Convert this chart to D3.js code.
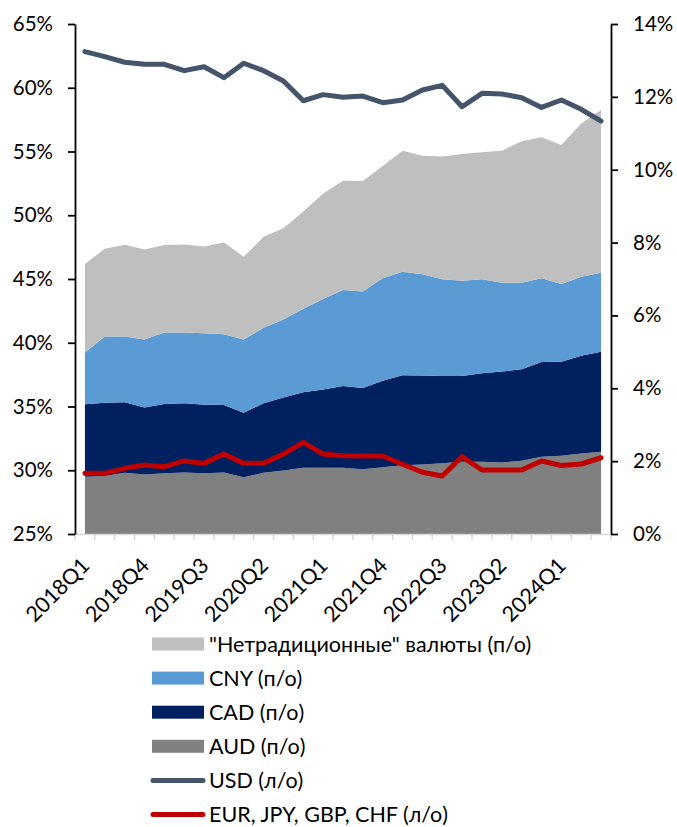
<!DOCTYPE html>
<html>
<head>
<meta charset="utf-8">
<script src="https://cdn.jsdelivr.net/npm/d3@7"></script>
<style>
  html, body { margin: 0; padding: 0; background: #fff; }
  svg { display: block; }
  text { font-family: Lato, "Open Sans", sans-serif; fill: #000; }
</style>
</head>
<body>
<svg id="chart" width="677" height="827"></svg>
<script>
// ---- DATA ----
const quarters = ["2018Q1","2018Q2","2018Q3","2018Q4","2019Q1","2019Q2","2019Q3","2019Q4",
  "2020Q1","2020Q2","2020Q3","2020Q4","2021Q1","2021Q2","2021Q3","2021Q4",
  "2022Q1","2022Q2","2022Q3","2022Q4","2023Q1","2023Q2","2023Q3","2023Q4",
  "2024Q1","2024Q2","2024Q3"];
const tickLabels = ["2018Q1","2018Q4","2019Q3","2020Q2","2021Q1","2021Q4","2022Q3","2023Q2","2024Q1"];

// right axis (п/о), % of reserves
const aud = [1.57,1.59,1.68,1.63,1.67,1.69,1.67,1.69,1.56,1.68,1.74,1.82,1.82,1.82,1.78,1.83,1.89,1.91,1.94,1.98,1.98,1.96,2.01,2.12,2.15,2.21,2.26];
const cad = [1.99,2.01,1.94,1.84,1.90,1.90,1.88,1.85,1.77,1.91,2.01,2.07,2.15,2.24,2.23,2.38,2.47,2.44,2.40,2.36,2.43,2.50,2.51,2.60,2.58,2.68,2.74];
const cny = [1.42,1.82,1.80,1.87,1.96,1.94,1.96,1.94,2.01,2.07,2.14,2.29,2.48,2.64,2.65,2.81,2.84,2.78,2.65,2.61,2.58,2.44,2.38,2.30,2.13,2.17,2.17];
const nontrad = [2.43,2.41,2.52,2.47,2.40,2.42,2.38,2.52,2.27,2.50,2.50,2.67,2.90,3.00,3.03,3.08,3.32,3.25,3.37,3.48,3.49,3.62,3.88,3.87,3.82,4.21,4.47];

// left axis (л/о)
const usd = [62.83,62.44,62.00,61.84,61.84,61.34,61.65,60.79,61.92,61.34,60.53,58.98,59.46,59.25,59.35,58.83,59.04,59.82,60.19,58.51,59.56,59.51,59.22,58.46,59.04,58.31,57.39];
const majors = [29.76,29.76,30.15,30.41,30.28,30.73,30.54,31.27,30.54,30.54,31.27,32.19,31.27,31.14,31.12,31.12,30.47,29.84,29.55,31.07,30.02,30.02,30.02,30.73,30.37,30.49,30.98];

const leftTicks = [25,30,35,40,45,50,55,60,65];
const rightTicks = [0,2,4,6,8,10,12,14];

const areaSeries = [
  {key: "aud", name: "AUD (п/о)", values: aud, color: "#808080"},
  {key: "cad", name: "CAD (п/о)", values: cad, color: "#002060"},
  {key: "cny", name: "CNY (п/о)", values: cny, color: "#5B9BD5"},
  {key: "nontrad", name: "\"Нетрадиционные\" валюты (п/о)", values: nontrad, color: "#BFBFBF"}
];
const lineSeries = [
  {key: "usd", name: "USD (л/о)", values: usd, color: "#44546A"},
  {key: "majors", name: "EUR, JPY, GBP, CHF (л/о)", values: majors, color: "#C00000"}
];

// ---- LAYOUT ----
const svg = d3.select("#chart");
const plot = {left: 75, right: 611, top: 24, bottom: 534};

const x = d3.scaleBand().domain(quarters).range([plot.left, plot.right]).paddingInner(0).paddingOuter(0);
const cx = q => x(q) + x.bandwidth() / 2;
const yL = d3.scaleLinear().domain([25, 65]).range([plot.bottom, plot.top]);
const yR = d3.scaleLinear().domain([0, 14]).range([plot.bottom, plot.top]);

// stacked areas
const table = quarters.map((q, i) => {
  const o = {q};
  areaSeries.forEach(s => o[s.key] = s.values[i]);
  return o;
});
const stack = d3.stack().keys(areaSeries.map(s => s.key));
const stacked = stack(table);
const area = d3.area()
  .x(d => cx(d.data.q))
  .y0(d => yR(d[0]))
  .y1(d => yR(d[1]));
svg.append("g").selectAll("path").data(stacked).join("path")
  .attr("d", area)
  .attr("fill", (d, i) => areaSeries[i].color);

// x axis (light gray) with ticks at category boundaries
const xAxisG = svg.append("g").attr("transform", `translate(0,${plot.bottom})`);
xAxisG.append("line").attr("x1", plot.left).attr("x2", plot.right)
  .attr("y1", 0.5).attr("y2", 0.5).attr("stroke", "#D9D9D9").attr("stroke-width", 1.5);
const boundaries = quarters.map(q => x(q)).concat([plot.right]);
xAxisG.selectAll("line.tk").data(boundaries).join("line").attr("class", "tk")
  .attr("x1", d => d).attr("x2", d => d).attr("y1", 0).attr("y2", 6)
  .attr("stroke", "#D9D9D9").attr("stroke-width", 1.5);
xAxisG.selectAll("text").data(tickLabels).join("text")
  .attr("transform", d => `translate(${cx(d) + 6},${33}) rotate(-45)`)
  .attr("text-anchor", "end")
  .style("font-size", "21.5px")
  .text(d => d);

// left axis
const leftAxis = d3.axisLeft(yL).tickValues(leftTicks).tickSize(7).tickSizeOuter(0)
  .tickFormat(d => d + "%");
const gl = svg.append("g").attr("transform", `translate(${plot.left},0)`).call(leftAxis);
gl.select(".domain").attr("stroke", "#000").attr("stroke-width", 1.8);
gl.selectAll(".tick line").attr("stroke", "#000").attr("stroke-width", 1.8);
gl.selectAll(".tick text").attr("x", -22).style("font-size", "20.5px").style("font-family", "Lato, sans-serif");

// right axis
const rightAxis = d3.axisRight(yR).tickValues(rightTicks).tickSize(7).tickSizeOuter(0)
  .tickFormat(d => d + "%");
const gr = svg.append("g").attr("transform", `translate(${plot.right},0)`).call(rightAxis);
gr.select(".domain").attr("stroke", "#000").attr("stroke-width", 1.8);
gr.selectAll(".tick line").attr("stroke", "#000").attr("stroke-width", 1.8);
gr.selectAll(".tick text").attr("x", 22).style("font-size", "20.5px").style("font-family", "Lato, sans-serif");
svg.selectAll(".tick text").attr("fill", "#000");

// lines
const line = d3.line().x((d, i) => cx(quarters[i])).y(d => yL(d));
svg.append("g").selectAll("path").data(lineSeries).join("path")
  .attr("d", d => line(d.values))
  .attr("fill", "none")
  .attr("stroke", d => d.color)
  .attr("stroke-width", 5)
  .attr("stroke-linejoin", "round")
  .attr("stroke-linecap", "round");

// legend
const legendItems = [
  {name: areaSeries[3].name, color: areaSeries[3].color, type: "rect"},
  {name: areaSeries[2].name, color: areaSeries[2].color, type: "rect"},
  {name: areaSeries[1].name, color: areaSeries[1].color, type: "rect"},
  {name: areaSeries[0].name, color: areaSeries[0].color, type: "rect"},
  {name: lineSeries[0].name, color: lineSeries[0].color, type: "line"},
  {name: lineSeries[1].name, color: lineSeries[1].color, type: "line"}
];
const lg = svg.append("g");
const rowY = i => 644 + i * 34.1;
legendItems.forEach((it, i) => {
  const y = rowY(i);
  if (it.type === "rect") {
    lg.append("rect").attr("x", 152).attr("y", y - 6.5).attr("width", 52).attr("height", 13).attr("fill", it.color);
  } else {
    lg.append("line").attr("x1", 153).attr("x2", 203).attr("y1", y).attr("y2", y)
      .attr("stroke", it.color).attr("stroke-width", 5).attr("stroke-linecap", "round");
  }
  lg.append("text").attr("x", 209).attr("y", y).attr("dy", "0.35em")
    .style("font-size", "21.5px").text(it.name);
});
</script>
</body>
</html>
